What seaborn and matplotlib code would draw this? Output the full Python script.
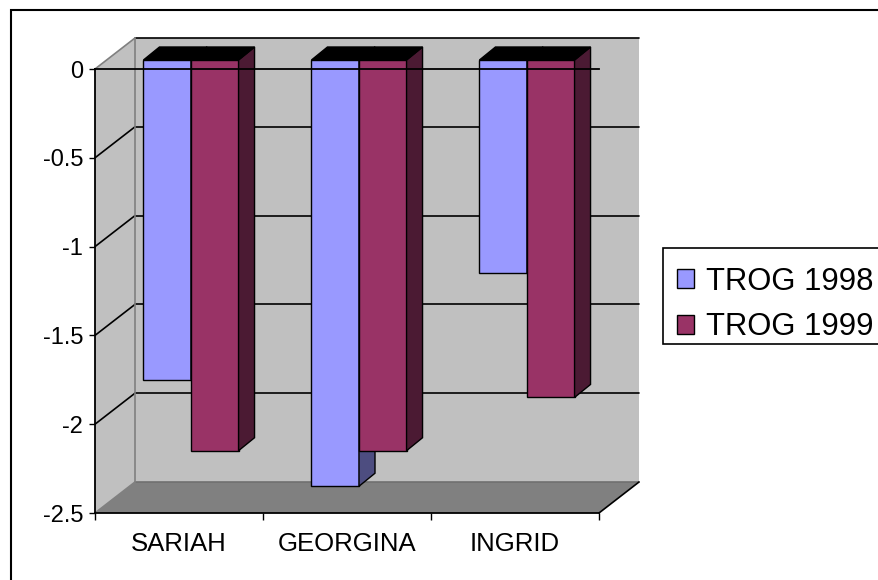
import matplotlib
matplotlib.use("Agg")
import matplotlib.pyplot as plt
import numpy as np
import pandas as pd
import seaborn as sns
from matplotlib.patches import Polygon, Rectangle, Patch
from matplotlib.lines import Line2D

# ---- data -------------------------------------------------------------
names = ["SARIAH", "GEORGINA", "INGRID"]
series = ["TROG 1998", "TROG 1999"]
trog_1998 = [-1.8, -2.4, -1.2]
trog_1999 = [-2.2, -2.2, -1.9]
y_ticks = [0, -0.5, -1, -1.5, -2, -2.5]

face_colors = {"TROG 1998": "#9999FF", "TROG 1999": "#993366"}
side_colors = {"TROG 1998": "#4D4D80", "TROG 1999": "#4B1A33"}

df = pd.DataFrame({
    "name": names * 2,
    "series": [series[0]] * len(names) + [series[1]] * len(names),
    "value": trog_1998 + trog_1999,
})

sns.set_theme(style="white")
plt.rcParams["font.family"] = ["Liberation Sans", "DejaVu Sans"]
plt.rcParams["text.color"] = "black"
plt.rcParams["xtick.color"] = "black"
plt.rcParams["ytick.color"] = "black"

W, H = 879, 580
fig = plt.figure(figsize=(W / 100, H / 100), dpi=100)
fig.patch.set_facecolor("white")

# front face of the plot box, in pixels from the top-left corner
left_px, right_px, top_px, bottom_px = 95, 599, 69, 513
ax = fig.add_axes([left_px / W, 1 - bottom_px / H,
                   (right_px - left_px) / W, (bottom_px - top_px) / H])
ax.set_facecolor("none")

xmin, xmax = -0.5, len(names) - 0.5
ymin, ymax = min(y_ticks), max(y_ticks)

# pixel -> data scale, used to express the 3-D depth offsets
ux = (right_px - left_px) / (xmax - xmin)
uy = (bottom_px - top_px) / (ymax - ymin)


def depth(dx_px, dy_px):
    return dx_px / ux, dy_px / uy


wx, wy = depth(40, 31)      # full depth of the box
fx, fy = depth(12, 9)       # front plane of the columns
bx, by = depth(16, 13)      # depth of a column

# ---- columns (front faces) --------------------------------------------
sns.barplot(data=df, x="name", y="value", hue="series", palette=face_colors,
            width=0.566, saturation=1, edgecolor="black", linewidth=1,
            legend=False, ax=ax)
bars = list(ax.patches)
ax.set_xlim(xmin, xmax)
ax.set_ylim(ymin, ymax)

# ---- walls, floor and gridlines ---------------------------------------
wall = "#C0C0C0"
ax.add_patch(Polygon([(xmin + wx, ymin + wy), (xmax + wx, ymin + wy),
                      (xmax + wx, ymax + wy), (xmin + wx, ymax + wy)],
                     closed=True, facecolor=wall, edgecolor="none",
                     clip_on=False, zorder=0.1))
ax.add_patch(Polygon([(xmin, ymax), (xmin + wx, ymax + wy),
                      (xmin + wx, ymin + wy), (xmin, ymin)],
                     closed=True, facecolor=wall, edgecolor="none",
                     clip_on=False, zorder=0.1))
ax.add_patch(Polygon([(xmin, ymin), (xmax, ymin),
                      (xmax + wx, ymin + wy), (xmin + wx, ymin + wy)],
                     closed=True, facecolor="#808080", edgecolor="none",
                     clip_on=False, zorder=0.2))

for v in y_ticks:
    inner = v not in (ymin, ymax)
    col = "black" if v != ymin else "#707070"
    ax.add_line(Line2D([xmin + wx, xmax + wx], [v + wy, v + wy], color=col,
                       lw=1.2, clip_on=False, zorder=0.3))
    ax.add_line(Line2D([xmin, xmin + wx], [v, v + wy],
                       color="black" if inner else "#808080",
                       lw=1.2, clip_on=False, zorder=0.3))
ax.add_line(Line2D([xmin + wx, xmin + wx], [ymin + wy, ymax + wy],
                   color="#808080", lw=1.2, clip_on=False, zorder=0.3))
ax.add_line(Line2D([xmax, xmax + wx], [ymin, ymin + wy], color="black",
                   lw=1.2, clip_on=False, zorder=0.3))

# ---- 3-D columns: shift fronts back, add side and top faces -----------
n = len(names)
for i, p in enumerate(bars):
    s = series[i // n]
    z = 1.0 + 0.1 * (i // n)
    x0 = p.get_x() + fx
    x1 = x0 + p.get_width()
    y0 = p.get_y() + fy
    y1 = y0 + p.get_height()
    p.set_x(x0)
    p.set_y(y0)
    p.set_zorder(z)
    p.set_clip_on(False)
    ax.add_patch(Polygon([(x1, y0), (x1 + bx, y0 + by), (x1 + bx, y1 + by), (x1, y1)],
                         closed=True, facecolor=side_colors[s], edgecolor="black",
                         lw=1, clip_on=False, zorder=z + 0.01))
    ax.add_patch(Polygon([(x0, y0), (x1, y0), (x1 + bx, y0 + by), (x0 + bx, y0 + by)],
                         closed=True, facecolor="black", edgecolor="black",
                         lw=1, clip_on=False, zorder=z + 0.02))

# ---- axes lines, ticks and labels -------------------------------------
for side in ("left", "bottom", "top"):
    ax.spines[side].set_visible(True)
    ax.spines[side].set_color("black")
    ax.spines[side].set_linewidth(1.3)
ax.spines["right"].set_visible(False)

ax.set_yticks(y_ticks)
ax.set_yticklabels([f"{v:g}" for v in y_ticks])
ax.tick_params(axis="y", left=True, direction="out", length=4, width=1,
               color="black", labelcolor="black", pad=4.5, labelsize=17)

bounds = np.arange(n + 1) - 0.5
ax.set_xticks(bounds)
ax.set_xticklabels([])
ax.set_xticks(range(n), minor=True)
ax.set_xticklabels(names, minor=True)
ax.tick_params(axis="x", which="major", bottom=True, direction="out",
               length=5, width=1, color="black")
ax.tick_params(axis="x", which="minor", bottom=True, length=0, pad=14,
               labelsize=18.5, labelcolor="black")
ax.set_xlabel("")
ax.set_ylabel("")

top = ax.secondary_xaxis("top")
top.set_xticks(bounds)
top.set_xticklabels([])
top.tick_params(direction="in", length=5, width=1, color="black")
top.spines["top"].set_color("black")
top.spines["top"].set_linewidth(1.3)

# ---- legend -----------------------------------------------------------
fig.add_artist(Rectangle((663 / W, 1 - 344 / H), 1.0, 96 / H,
                         transform=fig.transFigure, facecolor="white",
                         edgecolor="black", lw=1.2, clip_on=False))
handles = [Patch(facecolor=face_colors[s], edgecolor="black", lw=1) for s in series]
fig.legend(handles, series, loc="upper left",
           bbox_to_anchor=(655 / W, 1 - 245 / H), frameon=False,
           fontsize=22.3, handlelength=0.55, handleheight=0.55,
           handletextpad=0.4, labelspacing=0.5, borderpad=0.2,
           labelcolor="black")

# outer chart border
fig.add_artist(Rectangle((11 / W, -0.1), 2.0, 1.1 - 10 / H,
                         transform=fig.transFigure, facecolor="none",
                         edgecolor="black", lw=1.5, clip_on=False))

fig.savefig("out.png", dpi=100)
